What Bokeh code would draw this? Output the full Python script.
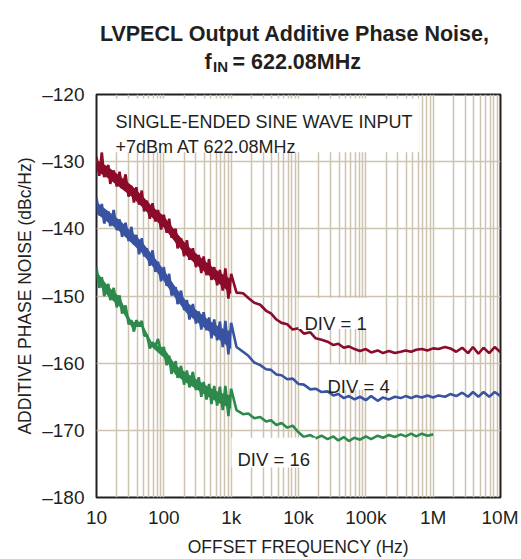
from bokeh.plotting import figure
from bokeh.models import FixedTicker, Label, BoxAnnotation, Range1d
from bokeh.layouts import column
from bokeh.embed import file_html
from bokeh.resources import INLINE

# ---------------- data ----------------
freq_hz = [10, 11, 12, 13, 15, 16, 18, 20, 22, 24, 27, 30, 33, 36, 39, 43, 47, 51, 56, 62, 68, 75, 82, 91,
           100, 110, 120, 130, 150, 160, 180, 200, 220, 240, 270, 300, 330, 360, 390, 430, 470, 510, 560, 620,
           680, 750, 820, 910, 1000,
           1200, 1500, 1800, 2200, 2700, 3300, 3900, 4700, 5600, 6800, 8200,
           10000, 12000, 15000, 18000, 22000, 27000, 33000, 39000, 47000, 56000, 68000, 82000,
           100000, 120000, 150000, 180000, 220000, 270000, 330000, 390000, 470000, 560000, 680000, 820000,
           1000000, 1200000, 1500000, 1800000, 2200000, 2700000, 3300000, 3900000, 4700000, 5600000,
           6800000, 8200000, 10000000]

div1_dbc = [-129.3, -132.1, -128.6, -132.3, -130.5, -133.3, -131.3, -133.7, -131.5, -134.0, -131.9, -135.2,
            -133.6, -136.1, -133.8, -136.4, -134.3, -137.4, -135.8, -138.5, -136.2, -138.9, -137.2, -140.1,
            -137.9, -140.6, -138.5, -141.3, -140.0, -142.9, -141.4, -144.1, -141.7, -144.6, -142.9, -145.7,
            -143.9, -146.6, -144.1, -146.9, -144.5, -147.6, -145.7, -148.4, -146.1, -149.2, -145.9, -150.4,
            -146.7,
            -149.5, -149.6, -150.3, -151.0, -151.3, -152.2, -152.6, -153.5, -154.0, -154.2, -155.0,
            -154.8, -155.6, -155.4, -156.3, -156.5, -156.8, -157.3, -157.1, -157.7, -157.5, -157.9, -158.2,
            -157.9, -158.4, -158.1, -158.5, -158.2, -158.5, -158.3, -158.1, -158.3, -158.0, -157.9, -158.1,
            -157.8, -157.9, -157.6, -157.8, -158.3, -157.7, -158.5, -157.6, -158.6, -157.7, -158.5, -157.6,
            -158.4]

div4_dbc = [-135.4, -138.0, -136.3, -139.2, -137.4, -139.6, -137.2, -140.2, -138.6, -141.2, -139.1, -141.8,
            -139.7, -142.3, -140.9, -143.8, -141.4, -144.1, -142.9, -145.5, -143.2, -146.4, -144.9, -147.8,
            -145.7, -148.5, -146.7, -149.9, -148.7, -151.2, -149.2, -152.1, -150.6, -153.5, -151.2, -154.1,
            -152.3, -155.0, -152.4, -155.1, -153.2, -156.3, -153.5, -156.6, -153.8, -157.6, -153.7, -158.7,
            -154.0,
            -157.6, -158.3, -158.9, -159.9, -160.3, -160.9, -161.0, -161.7, -161.8, -162.4, -162.3,
            -163.1, -163.2, -163.9, -163.8, -164.3, -164.2, -164.8, -164.6, -165.2, -164.9, -165.4, -165.0,
            -165.5, -164.9, -165.6, -165.1, -165.4, -165.0, -165.2, -164.9, -165.2, -164.9, -165.1, -164.8,
            -165.1, -164.8, -165.0, -164.6, -164.9, -164.4, -165.0, -164.3, -165.0, -164.3, -165.0, -164.3,
            -164.9]

# DIV = 16 trace stops at 1MHz
div16_dbc = [-145.7, -148.8, -147.2, -150.0, -148.2, -150.6, -148.8, -151.7, -149.9, -152.6, -151.4, -154.2,
             -153.6, -155.3, -153.6, -154.3, -153.7, -155.9, -155.8, -157.8, -156.9, -157.4, -156.4, -158.5,
             -157.6, -160.3, -158.9, -161.6, -159.7, -162.2, -160.4, -163.2, -161.1, -163.6, -161.3, -164.0,
             -162.1, -165.0, -162.8, -165.4, -163.1, -166.1, -163.4, -166.3, -163.5, -167.0, -163.4, -167.9,
             -163.8,
             -167.0, -167.6, -167.5, -168.2, -168.0, -168.7, -168.5, -169.2, -168.9, -169.6, -169.3,
             -170.3, -171.0, -170.7, -171.2, -170.8, -171.3, -170.9, -171.5, -171.0, -171.6, -171.1, -171.4,
             -170.9, -171.3, -170.8, -171.1, -170.7, -171.0, -170.6, -170.9, -170.5, -170.9, -170.5, -170.8,
             -170.6]

# dense-noise envelope (inner band) of the low-offset part of each trace
band_freq_hz = [10, 15, 22, 33, 47, 68, 100, 150, 220, 330, 470, 680, 1000]
div1_upper = [-129.7, -130.8, -132.1, -133.5, -135.0, -136.7, -138.1, -140.4, -142.4, -144.0, -145.3, -146.5, -147.5]
div1_lower = [-131.4, -132.5, -133.8, -135.2, -136.7, -138.4, -139.8, -142.1, -144.1, -145.7, -147.0, -148.3, -149.7]
div4_upper = [-136.0, -137.4, -138.7, -140.4, -141.9, -143.9, -146.1, -148.7, -150.9, -152.4, -153.6, -154.7, -155.3]
div4_lower = [-137.7, -139.1, -140.4, -142.1, -143.6, -145.6, -147.8, -150.4, -152.6, -154.1, -155.3, -156.6, -157.9]
div16_upper = [-146.3, -148.6, -150.1, -153.8, -154.0, -157.1, -157.7, -160.3, -161.5, -162.6, -163.6, -164.4, -164.8]
div16_lower = [-147.8, -150.1, -151.6, -154.6, -154.6, -157.7, -159.2, -161.8, -163.0, -164.1, -165.1, -166.0, -166.8]

x_ticks = [10, 100, 1000, 10000, 100000, 1000000, 10000000]
x_tick_labels = ["10", "100", "1k", "10k", "100k", "1M", "10M"]
y_ticks = [-180, -170, -160, -150, -140, -130, -120]
y_tick_labels = ["\u2013180", "\u2013170", "\u2013160", "\u2013150", "\u2013140", "\u2013130", "\u2013120"]

# ---------------- styling ----------------
INK = "#231f20"
GRID = "#cdc3b1"
RED = "#8c0a2a"
BLUE = "#3953a3"
GREEN = "#2e8a4c"
FONT = "Liberation Sans"

# frame placement (page pixels; the column root sits at the page origin)
FL, FR, FT, FB = 96.0, 500.0, 94.0, 498.0
W = 518
TITLE_H = 78
BL, BR = int(FL), int(W - FR)

# ---- title strip (its own small canvas; x in page pixels, y measured up from its bottom) ----
t = figure(width=W, height=TITLE_H, x_range=Range1d(FL, FR), y_range=Range1d(0, TITLE_H),
           output_backend="svg", toolbar_location=None,
           min_border_left=BL, min_border_right=BR, min_border_top=0, min_border_bottom=0)
t.axis.visible = False
t.grid.visible = False
t.outline_line_color = None
t.background_fill_color = "white"
t.border_fill_color = "white"


def tlab(text, px, py, size, align="left"):
    t.add_layout(Label(x=px, y=TITLE_H - py, text=text, text_font=FONT, text_font_size=size,
                       text_font_style="bold", text_color=INK, text_align=align, text_baseline="alphabetic"))


tlab("LVPECL Output Additive Phase Noise,", 294.5, 33, "21.5px", align="center")
tlab("f", 204, 61, "21.5px")
tlab("IN", 212.5, 66, "15px")
tlab("= 622.08MHz", 232, 61, "21.5px")

# ---- main chart ----
p = figure(width=W, height=559 - TITLE_H, x_axis_type="log",
           x_range=Range1d(10, 1e7), y_range=Range1d(-180, -120),
           output_backend="svg", toolbar_location=None,
           min_border_left=BL, min_border_right=BR, min_border_top=int(FT) - TITLE_H,
           min_border_bottom=559 - int(FB))
p.background_fill_color = "white"
p.border_fill_color = "white"
p.outline_line_color = INK
p.outline_line_width = 2

minor = [m * d for d in x_ticks[:-1] for m in range(2, 10)]
xt = FixedTicker(ticks=x_ticks, minor_ticks=minor)
yt = FixedTicker(ticks=y_ticks)
p.xaxis.ticker = xt
p.yaxis.ticker = yt
p.xgrid.ticker = xt
p.ygrid.ticker = yt
p.xaxis.major_label_overrides = {float(v): s for v, s in zip(x_ticks, x_tick_labels)}
p.yaxis.major_label_overrides = {float(v): s for v, s in zip(y_ticks, y_tick_labels)}

p.xgrid.grid_line_color = GRID
p.xgrid.grid_line_width = 1.5
p.xgrid.minor_grid_line_color = GRID
p.xgrid.minor_grid_line_width = 1.5
p.ygrid.grid_line_color = GRID
p.ygrid.grid_line_width = 1.5

for ax in (p.xaxis, p.yaxis):
    ax.axis_line_color = None
    ax.major_tick_line_color = None
    ax.minor_tick_line_color = None
    ax.major_tick_out = 0
    ax.minor_tick_out = 0
    ax.major_label_text_font = FONT
    ax.major_label_text_font_size = "19px"
    ax.major_label_text_color = INK
    ax.axis_label_text_font = FONT
    ax.axis_label_text_font_size = "17.5px"
    ax.axis_label_text_font_style = "normal"
    ax.axis_label_text_color = INK

p.xaxis.axis_label = "OFFSET FREQUENCY (Hz)"
p.yaxis.axis_label = "ADDITIVE PHASE NOISE (dBc/Hz)"
p.xaxis.major_label_standoff = 9
p.yaxis.major_label_standoff = 12
p.xaxis.axis_label_standoff = 6
p.yaxis.axis_label_standoff = 4

# traces: inner noise band + noisy line
for lo, hi, c in ((div1_lower, div1_upper, RED), (div4_lower, div4_upper, BLUE), (div16_lower, div16_upper, GREEN)):
    p.varea(x=band_freq_hz, y1=lo, y2=hi, fill_color=c, fill_alpha=1.0)
p.line(freq_hz, div1_dbc, line_color=RED, line_width=2.6)
p.line(freq_hz, div4_dbc, line_color=BLUE, line_width=2.6)
p.line(freq_hz[:len(div16_dbc)], div16_dbc, line_color=GREEN, line_width=2.6)


# ---------------- annotations (placed by page pixel) ----------------
def px2x(px):
    return 10 ** (1 + (px - FL) / ((FR - FL) / 6.0))


def px2y(py):
    return -120 - (py - FT) * (60.0 / (FB - FT))


def wbox(l, r, top, bot):
    p.add_layout(BoxAnnotation(left=px2x(l), right=px2x(r), top=px2y(top), bottom=px2y(bot),
                               fill_color="white", fill_alpha=1.0, line_color=None))


def lab(text, px, py, size):
    p.add_layout(Label(x=px2x(px), y=px2y(py), text=text, text_font=FONT, text_font_size=size,
                       text_color=INK, text_align="left", text_baseline="alphabetic"))


wbox(98, 419, 98, 152)
wbox(298, 372, 298, 329)
wbox(322, 397, 365, 390)
wbox(231, 315, 438, 468)

lab("SINGLE-ENDED SINE WAVE INPUT", 115, 122, "18px")
lab("+7dBm AT 622.08MHz", 115, 147, "18px")
lab("DIV = 1", 304, 324, "18.5px")
lab("DIV = 4", 327, 387, "18.5px")
lab("DIV = 16", 237, 460, "18.5px")

open("out.html", "w").write(file_html(column(t, p, spacing=0), INLINE))
